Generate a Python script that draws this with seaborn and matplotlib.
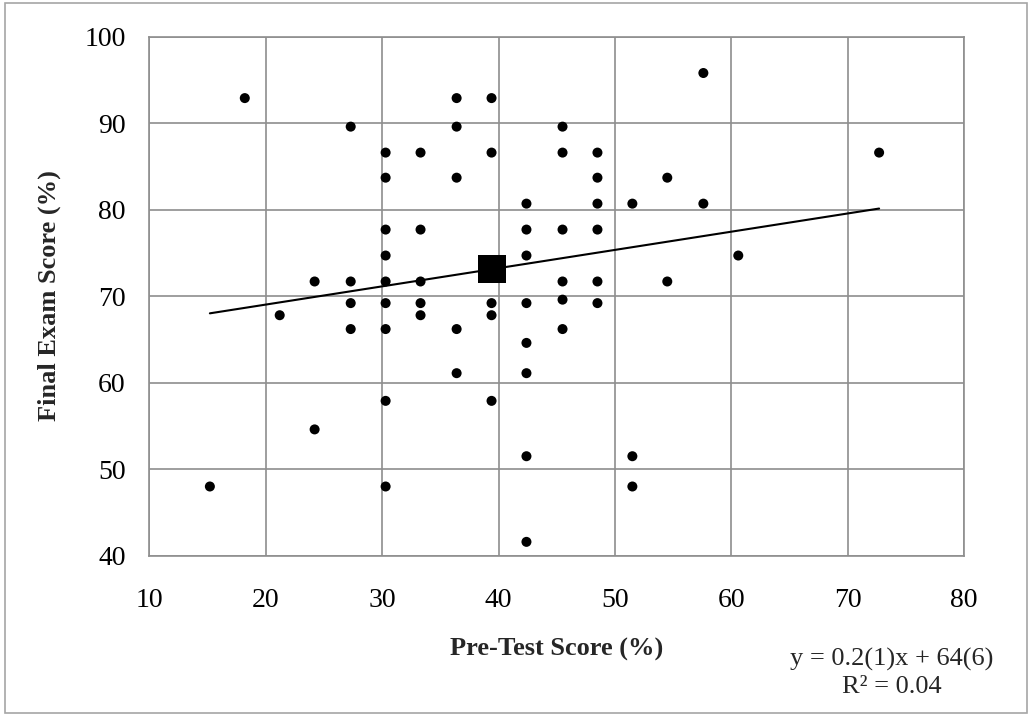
import numpy as np
import pandas as pd
import matplotlib
matplotlib.use("Agg")
import matplotlib.pyplot as plt
from matplotlib.patches import Rectangle
import seaborn as sns

# Pre-test score (%) and final exam score (%) for each student
pre_test = [
    18.2, 27.3, 30.3, 30.3, 30.3, 30.3, 24.2, 27.3, 30.3,
    36.4, 39.4, 36.4, 45.5,
    33.3, 39.4, 45.5, 48.5,
    36.4, 48.5, 54.5,
    42.4, 48.5, 51.5,
    33.3, 42.4, 45.5, 48.5,
    42.4,
    33.3, 45.5, 48.5, 54.5,
    57.6, 72.7, 57.6, 60.6,
    27.3, 30.3, 21.2, 27.3, 30.3, 30.3, 24.2, 15.2, 30.3,
    33.3, 39.4, 42.4, 45.5, 48.5,
    33.3, 39.4, 36.4, 45.5, 42.4,
    36.4, 42.4, 39.4, 42.4, 51.5, 51.5, 42.4,
]
final_exam = [
    92.9, 89.6, 86.6, 83.7, 77.7, 74.7, 71.7, 71.7, 71.7,
    92.9, 92.9, 89.6, 89.6,
    86.6, 86.6, 86.6, 86.6,
    83.7, 83.7, 83.7,
    80.7, 80.7, 80.7,
    77.7, 77.7, 77.7, 77.7,
    74.7,
    71.7, 71.7, 71.7, 71.7,
    95.8, 86.6, 80.7, 74.7,
    69.2, 69.2, 67.8, 66.2, 66.2, 57.9, 54.6, 48.0, 48.0,
    69.2, 69.2, 69.2, 69.6, 69.2,
    67.8, 67.8, 66.2, 66.2, 64.6,
    61.1, 61.1, 57.9, 51.5, 51.5, 48.0, 41.6,
]

x_ticks = [10, 20, 30, 40, 50, 60, 70, 80]
y_ticks = [40, 50, 60, 70, 80, 90, 100]
fit_label = ["y = 0.2(1)x + 64(6)", "R\u00b2 = 0.04"]

df = pd.DataFrame({"pre": pre_test, "final": final_exam})
mean_df = pd.DataFrame({"pre": [df["pre"].mean()], "final": [df["final"].mean()]})

sns.set_theme(style="white")
plt.rcParams["font.family"] = ["Liberation Serif", "DejaVu Serif"]

fig = plt.figure(figsize=(10.3, 7.15), dpi=100)
ax = fig.add_axes([0.145, 0.2228, 0.791, 0.7259])

grid_col = "#8e8e8e"
sns.scatterplot(data=df, x="pre", y="final", ax=ax, color="black",
                s=52, edgecolor="none", zorder=3)
sns.regplot(data=df, x="pre", y="final", ax=ax, scatter=False, ci=None,
            color="black", line_kws={"linewidth": 1.5, "zorder": 2})
sns.scatterplot(data=mean_df, x="pre", y="final", ax=ax, color="black",
                marker="s", s=390, edgecolor="none", zorder=4)

ax.set_xlim(10, 80)
ax.set_ylim(40, 100)
ax.set_xticks(x_ticks)
ax.set_yticks(y_ticks)
ax.grid(True, color=grid_col, linewidth=1.2)
ax.set_axisbelow(True)
for sp in ax.spines.values():
    sp.set_color(grid_col)
    sp.set_linewidth(1.2)
ax.tick_params(axis="both", length=0, labelsize=20, colors="black")
ax.tick_params(axis="x", pad=23)
ax.tick_params(axis="y", pad=17)
ax.set_xlabel("")
ax.set_ylabel("")

fig.text(557 / 1030, 1 - 649 / 715, "Pre-Test Score (%)", ha="center", va="center",
         fontsize=19, fontweight="bold")
fig.text(49 / 1030, 1 - 296 / 715, "Final Exam Score (%)", ha="center", va="center",
         rotation=90, fontsize=19, fontweight="bold")
fig.text(892 / 1030, 1 - 659 / 715, fit_label[0], ha="center", va="center", fontsize=19)
fig.text(892 / 1030, 1 - 687 / 715, fit_label[1], ha="center", va="center", fontsize=19)

# thin frame around the whole figure
fig.patches.append(Rectangle((5 / 1030, 2 / 715), 1022 / 1030, 710 / 715,
                             transform=fig.transFigure, fill=False,
                             edgecolor="#a6a6a6", linewidth=1.2))

fig.savefig("out.png", dpi=100, facecolor="white")
